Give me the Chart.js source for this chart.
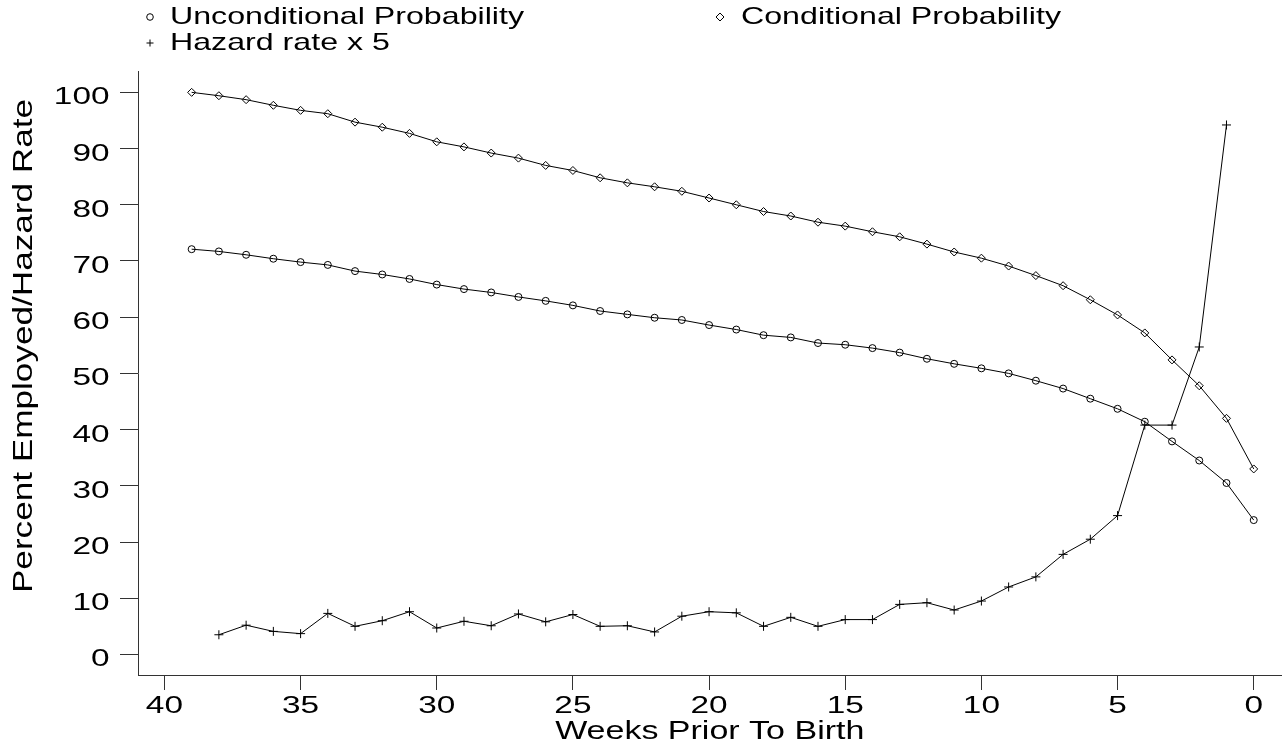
<!DOCTYPE html>
<html>
<head>
<meta charset="utf-8">
<script src="https://cdn.jsdelivr.net/npm/chart.js@4/dist/chart.umd.min.js"></script>
<style>
  html, body { margin: 0; padding: 0; background: #fff; }
  #wrap { width: 1287px; height: 744px; }
</style>
</head>
<body>
<div id="wrap"><canvas id="c" width="1287" height="744"></canvas></div>
<script>
// Weeks before birth, 39 down to 0
const weeks = [39,38,37,36,35,34,33,32,31,30,29,28,27,26,25,24,23,22,21,20,
               19,18,17,16,15,14,13,12,11,10,9,8,7,6,5,4,3,2,1,0];

const unconditional = [72.1,71.7,71.1,70.4,69.8,69.3,68.2,67.6,66.8,65.8,65.0,64.4,63.6,
                       62.9,62.1,61.1,60.5,59.9,59.5,58.6,57.8,56.8,56.4,55.4,55.1,54.5,53.7,52.6,
                       51.7,50.9,50.0,48.7,47.3,45.5,43.7,41.4,37.9,34.5,30.5,23.9];

const conditional = [100.0,99.4,98.7,97.7,96.8,96.2,94.7,93.8,92.7,91.2,90.3,89.2,88.3,
                     87.0,86.1,84.8,83.9,83.2,82.4,81.2,80.0,78.8,78.0,76.9,76.2,75.2,74.3,73.0,
                     71.6,70.5,69.1,67.4,65.6,63.1,60.4,57.2,52.4,47.8,42.0,33.0];

// Hazard rate (scaled by 5); no value at week 39 or week 0
const hazardX5 = [null,3.5,5.2,4.1,3.7,7.3,5.0,6.0,7.6,4.7,5.9,5.1,7.2,
                  5.8,7.1,5.0,5.1,4.0,6.8,7.6,7.4,5.0,6.6,5.0,6.2,6.2,8.9,9.2,
                  7.9,9.5,12.0,13.8,17.8,20.5,24.7,40.8,40.8,54.7,94.2,null];

const seriesNames = ['Unconditional Probability', 'Conditional Probability', 'Hazard rate x 5'];
const xTitle = 'Weeks Prior To Birth';
const yTitle = 'Percent Employed/Hazard Rate';
const yTicks = [0,10,20,30,40,50,60,70,80,90,100];
const xTicks = [40,35,30,25,20,15,10,5,0];

const FONT = '"Liberation Sans", Arial, Helvetica, sans-serif';

function toPoints(values) {
  return weeks.map((w, i) => ({ x: w, y: values[i] }));
}

// Text drawn with a horizontal stretch along its reading direction
function wideText(ctx, text, x, y, size, sx, align, angle) {
  ctx.save();
  ctx.translate(x, y);
  if (angle) ctx.rotate(angle);
  ctx.scale(sx, 1);
  ctx.font = size + 'px ' + FONT;
  ctx.fillStyle = '#000';
  ctx.textAlign = align;
  ctx.textBaseline = 'alphabetic';
  ctx.fillText(text, 0, 0);
  ctx.restore();
}

const baseSet = {
  borderColor: '#000',
  borderWidth: 1,
  pointBorderColor: '#000',
  pointBackgroundColor: 'rgba(255,255,255,0)',
  pointBorderWidth: 1,
  tension: 0,
  fill: false
};

// Tick labels, axis titles and the two-column legend
const textPlugin = {
  id: 'wideText',
  afterDraw(chart) {
    const ctx = chart.ctx;
    const xs = chart.scales.x, ys = chart.scales.y;

    ys.ticks.forEach(t => {
      wideText(ctx, String(t.value), 109.5, ys.getPixelForValue(t.value) + 12, 23, 1.45, 'right');
    });
    xs.ticks.forEach(t => {
      wideText(ctx, String(t.value), xs.getPixelForValue(t.value), 713, 23, 1.45, 'center');
    });
    wideText(ctx, xTitle, (xs.left + xs.right) / 2, 739, 25, 1.36, 'center');
    wideText(ctx, yTitle, 31.5, 346, 28, 1.255, 'center', -Math.PI / 2);

    const spots = [
      { mx: 150, my: 17, tx: 170, ty: 24, r: 3.3 },
      { mx: 720, my: 17, tx: 741, ty: 24, r: 4 },
      { mx: 150, my: 43, tx: 170, ty: 50, r: 3.5 }
    ];
    chart.data.datasets.forEach((ds, i) => {
      const s = spots[i];
      ctx.save();
      ctx.strokeStyle = '#000';
      ctx.fillStyle = 'rgba(255,255,255,0)';
      ctx.lineWidth = 1;
      Chart.helpers.drawPoint(ctx, { pointStyle: ds.pointStyle, radius: s.r, rotation: 0, borderWidth: 1 }, s.mx, s.my);
      ctx.restore();
      wideText(ctx, ds.label, s.tx, s.ty, 24, 1.34, 'left');
    });
  }
};

new Chart(document.getElementById('c'), {
  type: 'line',
  data: {
    datasets: [
      Object.assign({}, baseSet, { label: seriesNames[0], data: toPoints(unconditional), pointStyle: 'circle', pointRadius: 3.5 }),
      Object.assign({}, baseSet, { label: seriesNames[1], data: toPoints(conditional), pointStyle: 'rectRot', pointRadius: 4 }),
      Object.assign({}, baseSet, { label: seriesNames[2], data: toPoints(hazardX5), pointStyle: 'cross', pointRadius: 4.5 })
    ]
  },
  options: {
    responsive: false,
    animation: false,
    layout: { padding: { top: 71, left: 0, right: 0, bottom: 0 } },
    plugins: { legend: { display: false }, tooltip: { enabled: false } },
    scales: {
      x: {
        type: 'linear',
        reverse: true,
        min: -1.02,
        max: 40.97,
        afterBuildTicks(scale) { scale.ticks = xTicks.map(v => ({ value: v })); },
        afterFit(scale) { scale.height = 69; },
        border: { display: true, color: '#333', width: 1 },
        grid: { drawOnChartArea: false, drawTicks: true, tickLength: 15, color: '#333' },
        ticks: { display: false, autoSkip: false }
      },
      y: {
        type: 'linear',
        min: -3.66,
        max: 103.8,
        afterBuildTicks(scale) { scale.ticks = yTicks.map(v => ({ value: v })); },
        afterFit(scale) { scale.width = 138; },
        border: { display: true, color: '#333', width: 1 },
        grid: { drawOnChartArea: false, drawTicks: true, tickLength: 18, color: '#333' },
        ticks: { display: false, autoSkip: false }
      }
    }
  },
  plugins: [textPlugin]
});
</script>
</body>
</html>
